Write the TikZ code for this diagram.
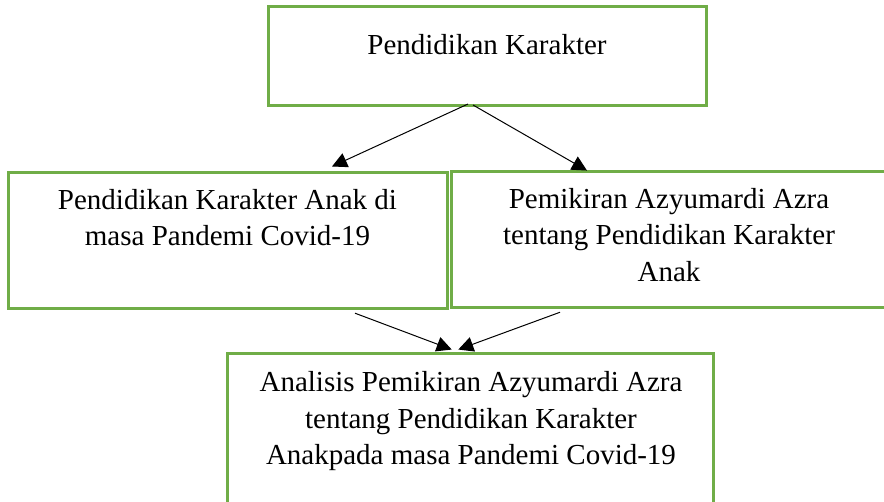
\documentclass[tikz,border=0pt]{standalone}
\usepackage{fontspec}
\setmainfont{Liberation Serif}
\usetikzlibrary{arrows.meta}
\definecolor{boxgreen}{HTML}{70AD47}
\tikzset{
  box/.style={draw=boxgreen, line width=3pt, rectangle, inner sep=0pt},
  txt/.style={anchor=base, align=center, inner sep=0pt, font=\fontsize{29}{36.7}\selectfont},
  arr/.style={-{Triangle[length=15pt,width=15pt]}, line width=1pt, black}
}
\begin{document}
\begin{tikzpicture}[x=1pt,y=-1pt]
\useasboundingbox (0,0) rectangle (884,502);
\clip (0,0) rectangle (884,502);
\fill[white] (0,0) rectangle (884,502);
% boxes
\node[box, minimum width=438pt, minimum height=99pt] (top) at (487,56.5) {};
\node[box, minimum width=439pt, minimum height=135.6pt] (left) at (227.5,240.5) {};
\node[box, minimum width=436pt, minimum height=136.7pt] (right) at (669,239.4) {};
\node[box, minimum width=486pt, minimum height=166.7pt] (bottom) at (470,436.7) {};
% texts (base anchor = baseline of the last line)
\node[txt] (ttop) at (487,55) {Pendidikan Karakter};
\node[txt] (tleft) at (227.5,246) {Pendidikan Karakter Anak di\\masa Pandemi Covid-19};
\node[txt] (tright) at (669,281.7) {Pemikiran Azyumardi Azra\\tentang Pendidikan Karakter\\Anak};
\node[txt] (tbottom) at (471,465) {Analisis Pemikiran Azyumardi Azra\\tentang Pendidikan Karakter\\Anakpada masa Pandemi Covid-19};
% arrows
\draw[arr] ([xshift=-19pt,yshift=3.5pt]top.south) -- ([xshift=104.5pt,yshift=4.7pt]left.north);
\draw[arr] ([xshift=-14pt,yshift=2.5pt]top.south) -- ([xshift=-82pt,yshift=-1pt]right.north);
\draw[arr] ([xshift=127.5pt,yshift=-3.4pt]left.south) -- ([xshift=-18.3pt,yshift=2.3pt]bottom.north);
\draw[arr] ([xshift=-109pt,yshift=-3pt]right.south) -- ([xshift=-11.7pt,yshift=2.3pt]bottom.north);
\end{tikzpicture}
\end{document}
